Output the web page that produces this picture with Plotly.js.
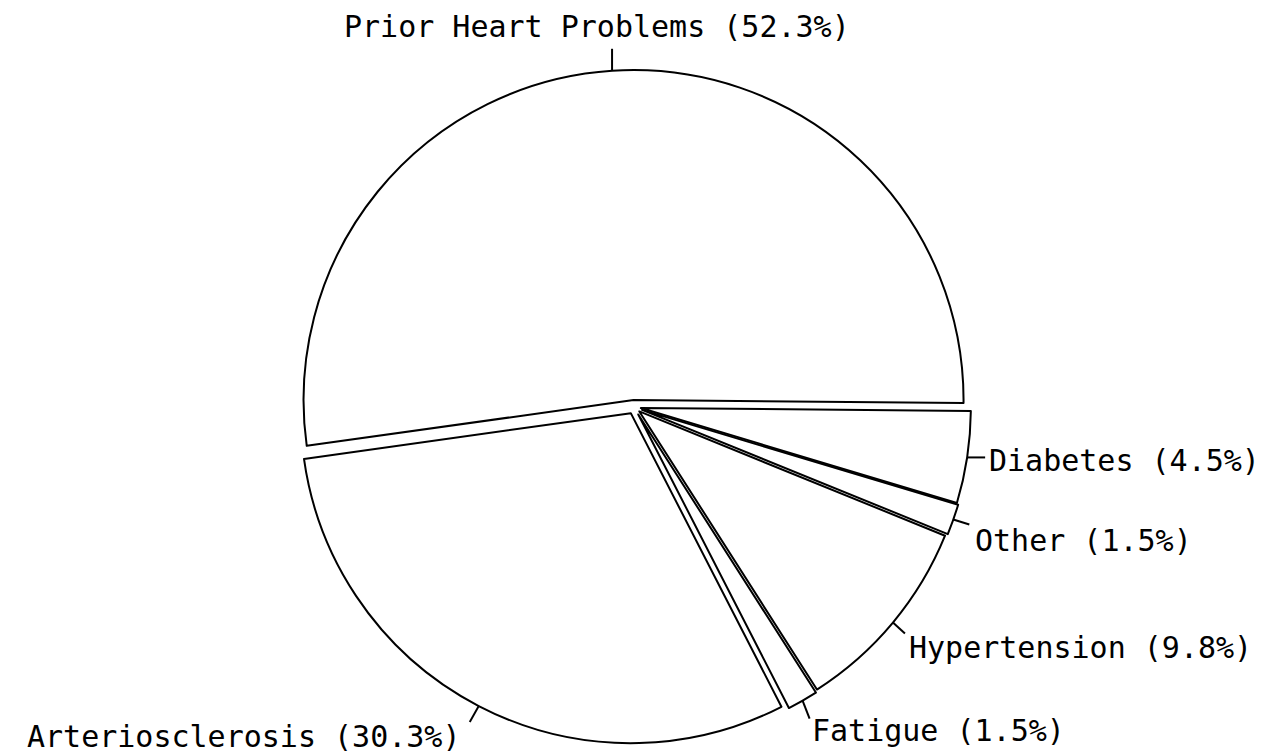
<!DOCTYPE html>
<html><head><meta charset="utf-8">
<script src="https://cdn.plot.ly/plotly-3.0.1.min.js"></script>
<style>html,body{margin:0;padding:0;background:#fff}</style>
</head><body><div id="chart" style="width:1269px;height:754px"></div>
<script>
// ---- data ----
const labels = ['Prior Heart Problems','Arteriosclerosis','Fatigue','Hypertension','Other','Diabetes'];
const percents = [52.3, 30.3, 1.5, 9.8, 1.5, 4.5];

// ---- geometry / style ----
const W = 1269, H = 754;
const CX = 634, CY = 407, R = 330, START = -0.5; // start angle, math degrees
const pulls = [0.021, 0.021, 0.026, 0.021, 0.026, 0.021];
const MAXPULL = Math.max(...pulls);
const RT = R * (1 + MAXPULL);
const FONT = {family: '"DejaVu Sans Mono", "Liberation Mono", monospace', size: 30, color: '#000'};

// leader line offsets (px) from slice edge, and text placement relative to leader end
const leaderOff = [[0,-22],[-9,16],[7,18],[12,11],[16,5],[18,0]];
const textPlace = [[-15,-3,'center','bottom'],[-8,-5,'right','top'],[0,-8,'left','top'],
                   [2,-6,'left','top'],[4,-4,'left','top'],[2,3,'left','middle']];

const total = percents.reduce((a,b)=>a+b,0);
let cum = 0;
const mids = percents.map(v => { const m = START + (cum + v/2) / total * 360; cum += v; return m; });

const px2x = p => p / W, px2y = p => 1 - p / H;
const shapes = [], annotations = [];
mids.forEach((m, i) => {
  const a = m * Math.PI / 180;
  const rr = R * (1 + pulls[i]);
  const tx = CX + rr * Math.cos(a), ty = CY - rr * Math.sin(a);
  const ex = tx + leaderOff[i][0], ey = ty + leaderOff[i][1];
  shapes.push({type:'line', xref:'paper', yref:'paper', x0:px2x(tx), y0:px2y(ty), x1:px2x(ex), y1:px2y(ey),
               line:{color:'#000', width:2}});
  const tp = textPlace[i];
  annotations.push({xref:'paper', yref:'paper', x:px2x(ex+tp[0]), y:px2y(ey+tp[1]), xanchor:tp[2], yanchor:tp[3],
                    text: labels[i] + ' (' + percents[i].toFixed(1) + '%)', showarrow:false, font:FONT});
});

// Plotly (counterclockwise): first slice lies clockwise of the rotation point
const rotation = 90 - START - percents[0] / total * 360;

const trace = {
  type:'pie', labels: labels, values: percents, sort:false, direction:'counterclockwise',
  rotation: rotation, pull: pulls, textinfo:'none', hoverinfo:'label+percent',
  marker:{colors: labels.map(()=> '#ffffff'), line:{color:'#000', width:2}},
  domain:{x:[(CX-RT)/W, (CX+RT)/W], y:[1-(CY+RT)/H, 1-(CY-RT)/H]},
  showlegend:false
};

Plotly.newPlot('chart', [trace], {
  width:W, height:H, margin:{l:0,r:0,t:0,b:0}, paper_bgcolor:'#fff', plot_bgcolor:'#fff',
  showlegend:false, shapes:shapes, annotations:annotations, font:FONT
}, {displayModeBar:false, staticPlot:true});
</script></body></html>
